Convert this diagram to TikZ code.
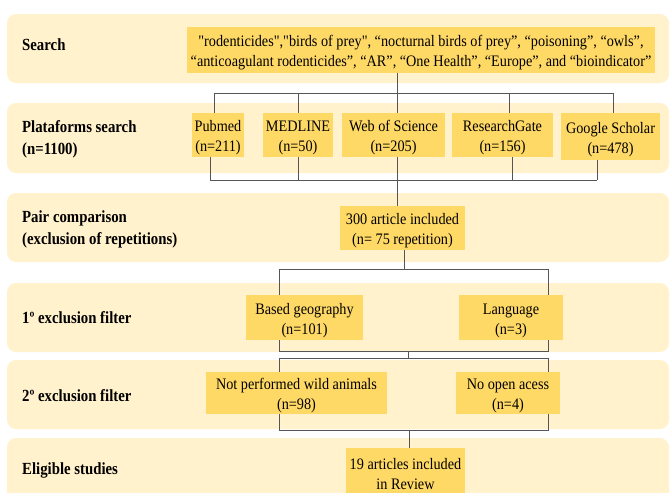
\documentclass[tikz,border=0pt]{standalone}
\usepackage{fontspec}
\setmainfont[FakeStretch=0.89, Ligatures=TeXOff]{Liberation Serif}
\newfontfamily\labelfont[FakeStretch=0.87, Ligatures=TeXOff]{Liberation Serif}
\pgfdeclarelayer{bandlayer}
\pgfdeclarelayer{linelayer}
\pgfsetlayers{bandlayer,linelayer,main}
\definecolor{bandfill}{HTML}{FFF2CC}
\definecolor{boxfill}{HTML}{FFD966}
\definecolor{linegray}{HTML}{555555}
\tikzset{
  band/.style={fill=bandfill, rounded corners=9pt},
  stagelabel/.style={anchor=west, font=\labelfont\fontsize{17}{22}\selectfont\bfseries, align=left, inner sep=0pt},
  box/.style={fill=boxfill, align=center, font=\fontsize{16}{20}\selectfont, inner sep=0pt,
    text height=35pt, text depth=1.4pt},
  conn/.style={draw=linegray, line width=0.9pt},
}
\begin{document}
\begin{tikzpicture}[x=1pt,y=-1pt]
\useasboundingbox (0,0) rectangle (670,493);
\clip (0,0) rectangle (670,493);
\begin{pgfonlayer}{bandlayer}
\fill[band] (7,14) rectangle (669,83);
\fill[band] (7,103) rectangle (669,173);
\fill[band] (7,193) rectangle (669,262);
\fill[band] (7,283) rectangle (669,352);
\fill[band] (7,360) rectangle (669,429);
\fill[band] (7,438) rectangle (669,510);
\end{pgfonlayer}
% stage labels
\node[stagelabel] (l1) at (22,45) {Search};
\node[stagelabel] (l2) at (22,139) {Plataforms search\\(n=1100)};
\node[stagelabel] (l3) at (22,229) {Pair comparison\\(exclusion of repetitions)};
\node[stagelabel] (l4) at (22,318) {1º exclusion filter};
\node[stagelabel] (l5) at (22,396) {2º exclusion filter};
\node[stagelabel] (l6) at (22,470) {Eligible studies};
% boxes
\node[box, minimum width=468pt, minimum height=46pt] (search) at (421,50)
  {"rodenticides","birds of prey", “nocturnal birds of prey”, “poisoning”, “owls”,\\
   “anticoagulant rodenticides”, “AR”, “One Health”, “Europe”, and “bioindicator”};
\node[box, minimum width=52pt, minimum height=44pt] (pub) at (218,135) {Pubmed\\(n=211)};
\node[box, minimum width=70pt, minimum height=44pt] (med) at (298,135) {MEDLINE\\(n=50)};
\node[box, minimum width=103pt, minimum height=44pt] (wos) at (393.5,135) {Web of Science\\(n=205)};
\node[box, minimum width=101pt, minimum height=44pt] (rg) at (502.5,135) {ResearchGate\\(n=156)};
\node[box, minimum width=99pt, minimum height=47pt] (gs) at (610.5,136.5) {Google Scholar\\(n=478)};
\node[box, minimum width=125pt, minimum height=44pt] (rep) at (402.5,228) {300 article included\\(n= 75 repetition)};
\node[box, minimum width=117pt, minimum height=45pt] (geo) at (304.5,317.5) {Based geography\\(n=101)};
\node[box, minimum width=104pt, minimum height=45pt] (lang) at (511,317.5) {Language\\(n=3)};
\node[box, minimum width=181pt, minimum height=42pt] (nwa) at (296.5,393) {Not performed wild animals\\(n=98)};
\node[box, minimum width=104pt, minimum height=42pt] (noa) at (508,393) {No open acess\\(n=4)};
\node[box, minimum width=119pt, minimum height=50pt] (final) at (405.5,473) {19 articles included\\in Review};
% connectors
\coordinate (tbus) at (397,93);
\coordinate (tL) at (214,93);
\coordinate (tR) at (613,93);
\coordinate (tRG) at (509,93);
\coordinate (bL) at (210,180);
\coordinate (bC) at (397,180);
\coordinate (bRG) at (512,180);
\coordinate (bR) at (597,180);
\coordinate (fa) at (404,269);
\coordinate (faL) at (279,269);
\coordinate (faR) at (548,269);
\coordinate (faLb) at (279,351);
\coordinate (faRb) at (548,351);
\coordinate (fb) at (408,351);
\coordinate (fbt) at (408,358);
\coordinate (fbL) at (279,358);
\coordinate (fbR) at (548,358);
\coordinate (fbLb) at (279,430);
\coordinate (fbRb) at (548,430);
\coordinate (fc) at (409,430);
\begin{pgfonlayer}{linelayer}
\draw[conn] (search.south -| tbus) -- (tbus);
\draw[conn] (tL) -- (tR);
\draw[conn] (tL) -- (tL |- pub.north);
\draw[conn] (tbus -| med.north) -- (med.north);
\draw[conn] (tbus) -- (tbus |- wos.north);
\draw[conn] (tRG) -- (tRG |- rg.north);
\draw[conn] (tR) -- (tR |- gs.north);
\draw[conn] (bL |- pub.south) -- (bL);
\draw[conn] (med.south) -- (med.south |- bC);
\draw[conn] (bC |- wos.south) -- (bC |- rep.north);
\draw[conn] (bRG |- rg.south) -- (bRG);
\draw[conn] (bR |- gs.south) -- (bR);
\draw[conn] (bL) -- (bR);
\draw[conn] (fa |- rep.south) -- (fa);
\draw[conn] (faLb) -- (faL) -- (faR) -- (faRb) -- cycle;
\draw[conn] (fb) -- (fbt);
\draw[conn] (fbLb) -- (fbL) -- (fbR) -- (fbRb) -- cycle;
\draw[conn] (fc) -- (fc |- final.north);
\end{pgfonlayer}
\end{tikzpicture}
\end{document}
